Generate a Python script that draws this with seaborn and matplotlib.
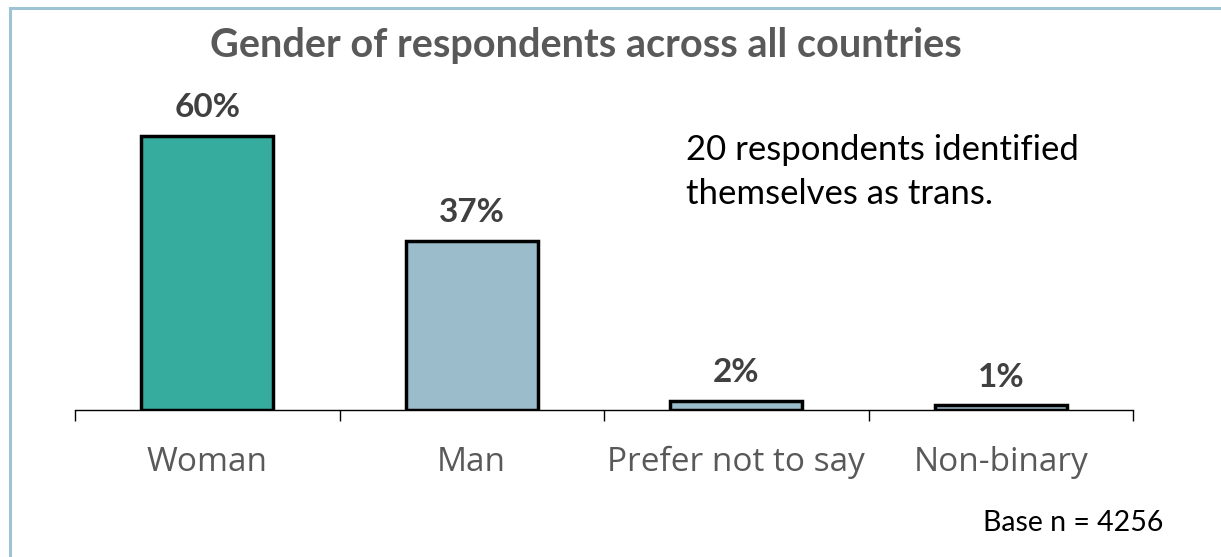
import matplotlib
matplotlib.use("Agg")
import matplotlib.pyplot as plt
import matplotlib.patches as mpatches
from matplotlib.ticker import FixedLocator
import seaborn as sns
import pandas as pd

categories = ["Woman", "Man", "Prefer not to say", "Non-binary"]
shares = [60, 37, 2, 1]
value_labels = ["60%", "37%", "2%", "1%"]
bar_colors = ["#36AC9F", "#9BBCCB", "#9BBCCB", "#9BBCCB"]

title = "Gender of respondents across all countries"
note = "20 respondents identified\nthemselves as trans."
base_note = "Base n = 4256"

sns.set_theme(style="white")
plt.rcParams["font.family"] = ["Lato", "DejaVu Sans"]

df = pd.DataFrame({"gender": categories, "share": shares})

W, H = 1221, 557
fig = plt.figure(figsize=(W / 100, H / 100), dpi=100)
ax = fig.add_axes([75 / W, 147 / H, (1133 - 75) / W, 297 / H])

sns.barplot(data=df, x="gender", y="share", hue="gender",
            palette=dict(zip(categories, bar_colors)), legend=False,
            saturation=1, width=0.5, edgecolor="black", linewidth=2.5, ax=ax)

ax.set_xlim(-0.5, len(categories) - 0.5)
ax.set_ylim(0, 65)
ax.set_xlabel("")
ax.set_ylabel("")
ax.set_yticks([])

for side in ["top", "right", "left"]:
    ax.spines[side].set_visible(False)
ax.spines["bottom"].set_color("black")
ax.spines["bottom"].set_linewidth(1.0)

# boundary ticks between categories, labels centred on the bars
ax.xaxis.set_major_locator(FixedLocator([i - 0.5 for i in range(len(categories) + 1)]))
ax.xaxis.set_minor_locator(FixedLocator(list(range(len(categories)))))
ax.set_xticklabels([""] * (len(categories) + 1))
ax.set_xticklabels(categories, minor=True)
ax.tick_params(axis="x", which="major", direction="out", length=8, width=1,
               color="black", bottom=True)
ax.tick_params(axis="x", which="minor", length=0, pad=26, labelsize=24,
               labelcolor="#595959")
for lbl in ax.get_xticklabels(minor=True):
    lbl.set_fontfamily(["Open Sans", "DejaVu Sans"])

# value labels above each bar
for i, patch in enumerate(ax.patches):
    x = patch.get_x() + patch.get_width() / 2
    ax.annotate(value_labels[i], (x, patch.get_height()), xytext=(0, 10),
                textcoords="offset points", ha="center", va="bottom",
                fontsize=24, fontweight="bold", color="#404040")

fig.text(586 / W, 1 - 45 / H, title, ha="center", va="center",
         fontsize=28.5, fontweight="bold", color="#595959")
fig.text(686 / W, 1 - 172 / H, note, ha="left", va="center",
         fontsize=25, color="black", linespacing=1.45)
fig.text(1163 / W, 1 - 523 / H, base_note, ha="right", va="center",
         fontsize=20.5, color="black")

# light frame around the chart
frame = mpatches.Rectangle((10 / W, -0.05), 1.1, 1 - 8 / H + 0.05,
                           transform=fig.transFigure, fill=False,
                           edgecolor="#9DC3D4", linewidth=2.2, clip_on=False)
fig.patches.append(frame)

fig.savefig("out.png", dpi=100)
